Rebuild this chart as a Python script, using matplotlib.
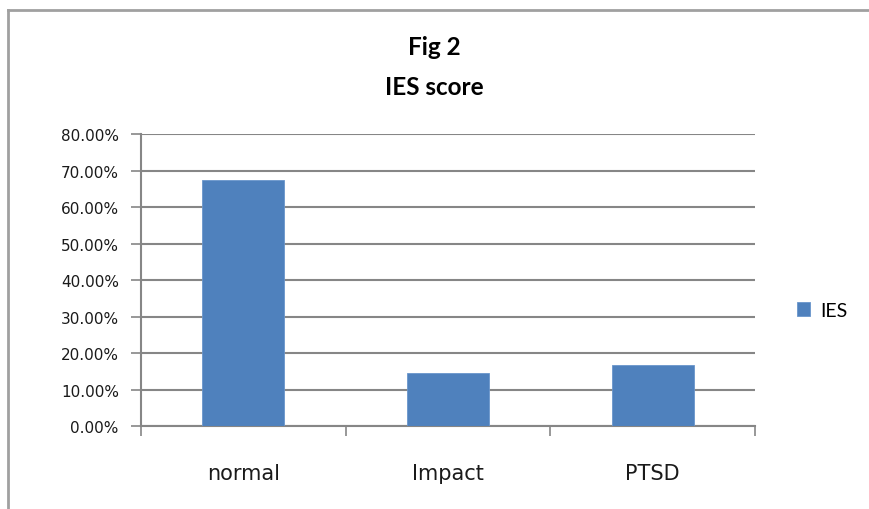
import matplotlib.pyplot as plt
from matplotlib.lines import Line2D
from matplotlib.ticker import FuncFormatter

# Data
categories = ["normal", "Impact", "PTSD"]
ies_values = [67.4, 14.6, 16.7]
y_ticks = [0, 10, 20, 30, 40, 50, 60, 70, 80]

fig = plt.figure(figsize=(8.69, 5.10), dpi=100)
ax = fig.add_axes([0.1623, 0.1618, 0.7065, 0.5735])

x = range(len(categories))
ax.bar(x, ies_values, width=0.4, color="#4F81BD", edgecolor="#6A96CC",
       linewidth=0.6, label="IES", zorder=3)

ax.set_xlim(-0.5, 2.5)
ax.set_ylim(0, 80)
ax.set_yticks(y_ticks)
ax.yaxis.set_major_formatter(FuncFormatter(lambda v, p: f"{v:.2f}%"))
ax.grid(axis="y", color="#868686", linewidth=1.5, zorder=0)

# category labels at centres, tick marks at boundaries
ax.set_xticks(list(x))
ax.set_xticklabels(categories, fontfamily="DejaVu Sans", fontsize=15,
                   color="#1a1a1a")
ax.tick_params(axis="x", which="major", length=0, pad=26)
ax.set_xticks([-0.5, 0.5, 1.5, 2.5], minor=True)
ax.tick_params(axis="x", which="minor", length=7, color="#868686", width=1.2)
ax.tick_params(axis="y", length=7, color="#868686", width=1.2, pad=9)
for lab in ax.get_yticklabels():
    lab.set_fontfamily("DejaVu Sans")
    lab.set_fontsize(11)
    lab.set_color("#1a1a1a")

for side in ["top", "right"]:
    ax.spines[side].set_visible(False)
for side in ["left", "bottom"]:
    ax.spines[side].set_color("#868686")
    ax.spines[side].set_linewidth(1.5)

fig.text(0.5, 0.906, "Fig 2", ha="center", va="center", fontsize=17.5,
         fontweight="bold", fontfamily="Lato")
fig.text(0.5, 0.829, "IES score", ha="center", va="center", fontsize=17.5,
         fontweight="bold", fontfamily="Lato")

ax.legend(loc="center left", bbox_to_anchor=(1.055, 0.398), frameon=False,
          handlelength=0.7, handleheight=0.7, handletextpad=0.5,
          borderaxespad=0, prop={"family": "Lato", "size": 14})

# outer chart border (top and left visible)
fig.add_artist(Line2D([0.009, 1.0], [0.978, 0.978], color="#a0a0a0", linewidth=2))
fig.add_artist(Line2D([0.0095, 0.0095], [0.0, 0.978], color="#a0a0a0", linewidth=2))

plt.savefig("out.png", dpi=100)
